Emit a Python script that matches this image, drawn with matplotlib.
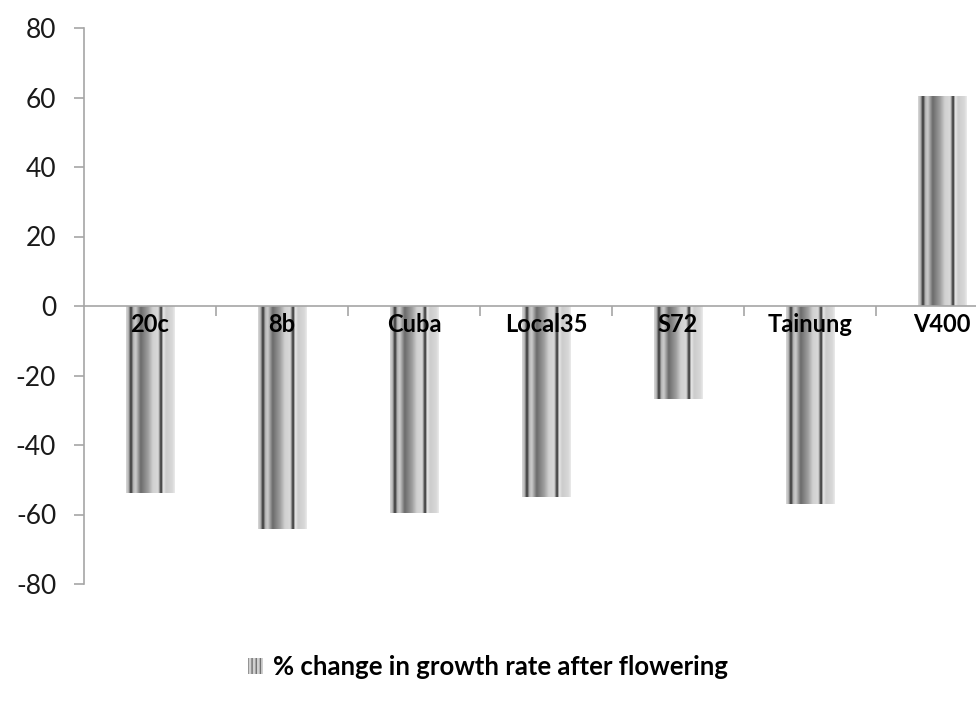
import numpy as np
import matplotlib
matplotlib.use("Agg")
import matplotlib.pyplot as plt
from matplotlib.patches import Patch
from matplotlib.colors import LinearSegmentedColormap

categories = ["20c", "8b", "Cuba", "Local35", "S72", "Tainung", "V400"]
values = [-53.7, -64.1, -59.5, -54.9, -26.7, -56.9, 60.4]
series_name = "% change in growth rate after flowering"
yticks = [-80, -60, -40, -20, 0, 20, 40, 60, 80]

plt.rcParams['font.family'] = ['Lato', 'DejaVu Sans']

# stripe gradient profile (position, gray level)
stops = [(0.0, 0.85), (0.05, 0.72), (0.10, 0.18), (0.15, 0.72), (0.20, 0.80),
         (0.30, 0.42), (0.45, 0.62), (0.55, 0.82), (0.66, 0.85), (0.72, 0.15),
         (0.76, 0.92), (0.82, 0.80), (0.95, 0.85), (1.0, 0.92)]
cmap = LinearSegmentedColormap.from_list(
    "stripes", [(p, (g, g, g)) for p, g in stops])
grad = np.linspace(0, 1, 256).reshape(1, -1)

fig = plt.figure(figsize=(9.76, 7.04), dpi=100)
left = 84 / 976
width = (1008 - 84) / 976
bottom = (704 - 584) / 704
height = (584 - 28) / 704
ax = fig.add_axes([left, bottom, width, height])

x = np.arange(len(categories))
bars = ax.bar(x, values, width=0.37, color='none', edgecolor='none')
for b in bars:
    x0, w = b.get_x(), b.get_width()
    y0, h = b.get_y(), b.get_height()
    ax.imshow(grad, cmap=cmap, vmin=0, vmax=1, aspect='auto',
              extent=(x0, x0 + w, y0, y0 + h), zorder=1, interpolation='bilinear')

ax.set_xlim(-0.5, len(categories) - 0.5)
ax.set_ylim(-80, 80)
ax.set_yticks(yticks)
ax.set_yticklabels([str(v) for v in yticks])

gray = '#a6a6a6'
for s in ['top', 'right']:
    ax.spines[s].set_visible(False)
ax.spines['left'].set_color(gray)
ax.spines['bottom'].set_color(gray)
ax.spines['bottom'].set_position(('data', 0))
ax.spines['left'].set_linewidth(1.2)
ax.spines['bottom'].set_linewidth(1.2)

ax.set_xticks(x)
ax.set_xticklabels(categories, fontweight='bold', fontsize=17)
ax.set_xticks(np.arange(len(categories)) + 0.5, minor=True)
ax.tick_params(axis='x', which='major', length=0, pad=5)
ax.tick_params(axis='x', which='minor', length=7, color=gray, width=1.2, direction='out')
ax.tick_params(axis='y', length=7, color=gray, width=1.2, labelsize=19, pad=13,
               labelcolor='#1a1a1a')
ax.xaxis.set_zorder(3)

handle = Patch(facecolor='#d0d0d0', edgecolor='#707070', hatch='||||', linewidth=0)
leg = ax.legend([handle], [series_name], loc='center',
                bbox_to_anchor=(0.5, 1 - 667 / 704), bbox_transform=fig.transFigure,
                frameon=False, prop={'weight': 'bold', 'size': 18.5},
                handlelength=0.6, handleheight=0.6, handletextpad=0.4)

fig.savefig("out.png", dpi=100)
